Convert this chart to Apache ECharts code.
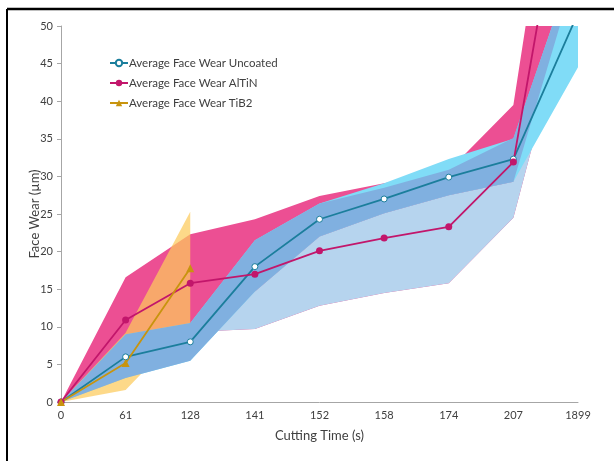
<!DOCTYPE html>
<html>
<head>
<meta charset="utf-8">
<script src="https://cdn.jsdelivr.net/npm/echarts@6/dist/echarts.min.js"></script>
<style>
  html, body { margin: 0; padding: 0; background: #fff; }
  #chart { width: 614px; height: 461px; }
</style>
</head>
<body>
<div id="chart"></div>
<script>
// cutting time categories
const categories = ["0", "61", "128", "141", "152", "158", "174", "207", "1899"];
const yTicks = [0, 5, 10, 15, 20, 25, 30, 35, 40, 45, 50];

// average lines
const uncoated = [0, 6.0, 8.0, 18.0, 24.3, 27.0, 29.9, 32.3, 51.7];
const altin = [0, 10.9, 15.8, 17.0, 20.1, 21.8, 23.3, 31.9, 81];
const tib2 = [0, 5.2, 17.8, "-", "-", "-", "-", "-", "-"];

// shaded ranges (as seen in the picture)
const altinLow = [0, 5.2, 9.3, 9.7, 12.8, 14.5, 15.8, 24.5, 57];
const altinHigh = [0, 16.6, 22.3, 24.3, 27.4, 29.1, 30.8, 39.5, 95];
const belowHigh = [0, 5.2, 9.3, 14.7, 22.0, 25.1, 27.5, 29.3, 57];
const cyanLow = [0, 3.2, 5.5, 14.7, 22.0, 25.1, 27.5, 29.3, 44.5];
const cyanHigh = [0, 9.0, 10.5, 21.5, 26.4, 29.1, 32.3, 35.0, 60];
const midLow = [0, 3.2, 5.5, 14.7, 22.0, 25.1, 27.5, 29.3, 58.1];
const midHigh = [0, 9.0, 10.5, 21.5, 26.4, 28.5, 30.9, 35.1, 59.9];
const tib2Low = [0, 1.6, 10.5, "-", "-", "-", "-", "-", "-"];
const tib2High = [0, 9.2, 25.3, "-", "-", "-", "-", "-", "-"];

const chart = echarts.init(document.getElementById("chart"));

// band = transparent base + filled difference, stacked
function band(key, lo, hi, color) {
  const diff = lo.map((v, i) => (v === "-" ? "-" : +(hi[i] - v).toFixed(2)));
  return [
    {
      type: "line", stack: key, data: lo, symbol: "none", silent: true,
      lineStyle: { width: 0, opacity: 0 }
    },
    {
      type: "line", stack: key, data: diff, symbol: "none", silent: true,
      lineStyle: { width: 0, opacity: 0 },
      areaStyle: { color: color, opacity: 1 }
    }
  ];
}

const font = "Lato, 'Noto Sans', sans-serif";

const option = {
  animation: false,
  grid: { left: 61, right: 36, top: 26, bottom: 59 },
  legend: {
    data: ["Average Face Wear Uncoated", "Average Face Wear AlTiN", "Average Face Wear TiB2"],
    orient: "vertical",
    left: 104,
    top: 52,
    itemWidth: 18,
    itemHeight: 8,
    itemGap: 8,
    textStyle: { color: "#404040", fontSize: 11.5, fontFamily: font, padding: [0, 0, 0, -4] }
  },
  xAxis: {
    type: "category",
    data: categories,
    boundaryGap: false,
    name: "Cutting Time (s)",
    nameLocation: "middle",
    nameGap: 27,
    nameTextStyle: { color: "#404040", fontSize: 13, fontFamily: font },
    axisLine: { lineStyle: { color: "#a6a6a6" } },
    axisTick: { show: false },
    axisLabel: { color: "#404040", fontSize: 11, fontFamily: font, margin: 8 },
    splitLine: { show: false }
  },
  yAxis: {
    type: "value",
    min: yTicks[0],
    max: yTicks[yTicks.length - 1],
    interval: 5,
    name: "Face Wear (µm)",
    nameLocation: "middle",
    nameGap: 20,
    nameMoveOverlap: false,
    nameTextStyle: { color: "#404040", fontSize: 13, fontFamily: font },
    axisLine: { show: true, lineStyle: { color: "#a6a6a6" } },
    axisTick: { show: true, length: 4, lineStyle: { color: "#a6a6a6" } },
    axisLabel: { color: "#404040", fontSize: 11, fontFamily: font, margin: 8 },
    splitLine: { show: false }
  },
  graphic: [
    { type: "line", shape: { x1: 7, y1: 9, x2: 614, y2: 9 }, style: { stroke: "#000", lineWidth: 2.5 } },
    { type: "line", shape: { x1: 7, y1: 9, x2: 7, y2: 461 }, style: { stroke: "#000", lineWidth: 2 } }
  ],
  series: [
    ...band("pink", altinLow, altinHigh, "#ec4f93"),
    ...band("below", altinLow, belowHigh, "#b6d4ee"),
    ...band("cyan", cyanLow, cyanHigh, "#80dcf7"),
    ...band("tib2", tib2Low, tib2High, "rgba(252,202,92,0.72)"),
    ...band("mid", midLow, midHigh, "#80b0e0"),
    {
      name: "Average Face Wear Uncoated",
      type: "line",
      data: uncoated,
      symbol: "circle",
      symbolSize: 6,
      itemStyle: { color: "#ffffff", borderColor: "#1b7e9c", borderWidth: 1 },
      lineStyle: { color: "#1b7e9c", width: 1.8 },
      z: 5
    },
    {
      name: "Average Face Wear AlTiN",
      type: "line",
      data: altin,
      symbol: "circle",
      symbolSize: 7,
      itemStyle: { color: "#c2166b" },
      lineStyle: { color: "#c2166b", width: 1.8 },
      z: 5
    },
    {
      name: "Average Face Wear TiB2",
      type: "line",
      data: tib2,
      symbol: "triangle",
      symbolSize: 8,
      itemStyle: { color: "#c8940e" },
      lineStyle: { color: "#c8940e", width: 1.8 },
      z: 5
    }
  ]
};

chart.setOption(option);
</script>
</body>
</html>
